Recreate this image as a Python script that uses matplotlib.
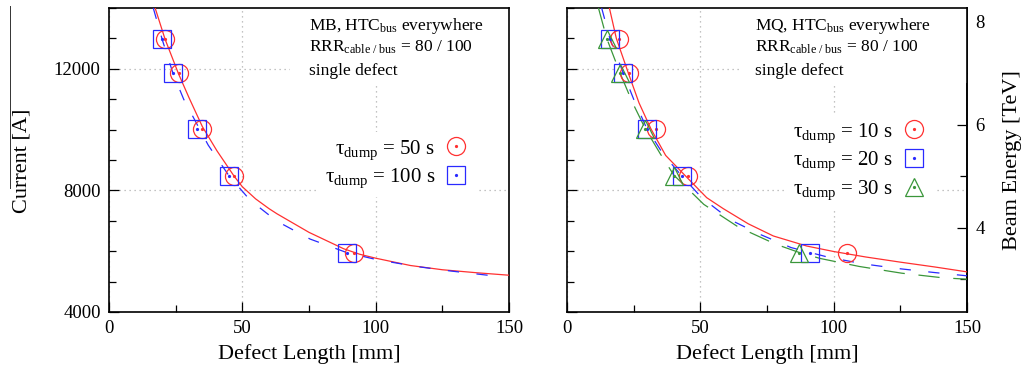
import matplotlib
matplotlib.use('Agg')
import matplotlib.pyplot as plt
from matplotlib.lines import Line2D
from matplotlib.patches import Rectangle
from matplotlib.ticker import MultipleLocator, FixedLocator

plt.rcParams['font.family'] = ['Liberation Serif', 'DejaVu Serif']
plt.rcParams['mathtext.fontset'] = 'custom'
plt.rcParams['mathtext.rm'] = 'Liberation Serif'
plt.rcParams['mathtext.it'] = 'Liberation Serif:italic'
plt.rcParams['mathtext.bf'] = 'Liberation Serif:bold'

# current -> beam energy (A per TeV)
AMPS_PER_TEV = 1694

# ---- MB panel (left) ----
mb_notes = ["MB, HTC$_{\\mathrm{bus}}$ everywhere",
            "RRR$_{\\mathrm{cable\\ /\\ bus}}$ = 80 / 100",
            "single defect"]
mb_labels = ["τ$_{\\mathrm{dump}}$ = 50 s", "τ$_{\\mathrm{dump}}$ = 100 s"]

mb50_pts_len = [21.0, 26.4, 35.0, 46.9, 91.9]
mb50_pts_cur = [12980, 11860, 10020, 8470, 5930]
mb100_pts_len = [20.0, 24.1, 33.1, 45.0, 89.1]
mb100_pts_cur = [12980, 11860, 10020, 8470, 5930]

mb50_fit_len = [17.3, 21, 26, 30, 35, 40.5, 46.9, 50, 55, 60, 63, 75, 88, 94, 100, 113, 125, 138, 150]
mb50_fit_cur = [14000, 12980, 11850, 11050, 10100, 9300, 8470, 8120, 7720, 7400, 7230, 6620,
                6080, 5900, 5770, 5530, 5390, 5290, 5210]
mb100_fit_len = [16.6, 20, 24, 28, 31.4, 37.2, 45, 52.9, 62.9, 75.4, 89, 100, 115, 128, 142, 144]
mb100_fit_cur = [14000, 12950, 11850, 11000, 10440, 9490, 8480, 7680, 6990, 6400, 5960,
                 5730, 5500, 5350, 5210, 5190]

# ---- MQ panel (right) ----
mq_notes = ["MQ, HTC$_{\\mathrm{bus}}$ everywhere",
            "RRR$_{\\mathrm{cable\\ /\\ bus}}$ = 80 / 100",
            "single defect"]
mq_labels = ["τ$_{\\mathrm{dump}}$ = 10 s", "τ$_{\\mathrm{dump}}$ = 20 s",
             "τ$_{\\mathrm{dump}}$ = 30 s"]

mq10_pts_len = [19.5, 23.3, 33.3, 45.3, 105.0]
mq10_pts_cur = [12980, 11860, 10020, 8470, 5930]
mq20_pts_len = [16.1, 21.1, 29.9, 43.0, 91.0]
mq20_pts_cur = [12980, 11860, 10020, 8470, 5930]
mq30_pts_len = [14.9, 19.9, 29.3, 40.1, 87.0]
mq30_pts_cur = [12980, 11860, 10020, 8470, 5950]

mq10_fit_len = [15.9, 18.5, 23, 27, 31.5, 37, 44.5, 52.4, 58.6, 68, 77.4, 89.9, 100, 112, 125, 138, 150]
mq10_fit_cur = [14000, 13000, 11860, 10880, 10020, 9150, 8470, 7760, 7400, 6900, 6500, 6170,
                5990, 5810, 5640, 5480, 5320]
mq20_fit_len = [13.0, 16.1, 21.1, 25, 29.9, 36, 43, 50.5, 61.4, 72.6, 84, 98, 111.1, 123.9, 137.6, 150]
mq20_fit_cur = [14000, 12990, 11860, 11000, 10040, 9200, 8480, 7760, 7025, 6546, 6120, 5802,
                5584, 5432, 5300, 5190]
mq30_fit_len = [11.8, 14.9, 19.9, 24.5, 29.3, 35, 40.1, 51.3, 64.4, 78.3, 87, 95, 109.6, 125.5, 141.1, 150]
mq30_fit_cur = [14000, 13000, 11860, 10900, 10040, 9200, 8500, 7540, 6786, 6229, 5960, 5760,
                5498, 5277, 5123, 5080]

energy_ticks = [4, 6, 8]
energy_minor = [3, 5, 7]

RED, BLUE, GREEN = '#ff3030', '#2a2aff', '#3a963a'
GRID_KW = dict(color='#b0b0b0', linestyle=(0, (1, 3)), linewidth=0.9)


def style_axes(ax):
    ax.set_xlim(0, 150)
    ax.set_ylim(4000, 14000)
    ax.xaxis.set_major_locator(MultipleLocator(50))
    ax.xaxis.set_minor_locator(MultipleLocator(25))
    ax.yaxis.set_major_locator(MultipleLocator(4000))
    ax.yaxis.set_minor_locator(MultipleLocator(1000))
    ax.tick_params(which='both', direction='in', top=False, right=False,
                   labelsize=13.5, width=0.9, pad=6)
    ax.tick_params(which='major', length=7)
    ax.tick_params(which='minor', length=5)
    for s in ax.spines.values():
        s.set_linewidth(1.2)
    ax.grid(True, which='major', **GRID_KW)
    ax.set_xlabel('Defect Length [mm]', fontsize=16, labelpad=5)


def draw_series(ax, pts_len, pts_cur, fit_len, fit_cur, color, marker, dashes):
    if dashes is None:
        ax.plot(fit_len, fit_cur, color=color, lw=0.9, zorder=3)
    else:
        ax.plot(fit_len, fit_cur, color=color, lw=0.9, dashes=dashes, zorder=3)
    big = ax.plot(pts_len, pts_cur, ls='none', marker=marker, ms=13, mfc='none',
                  mec=color, mew=0.9, zorder=4)[0]
    dot = ax.plot(pts_len, pts_cur, ls='none', marker='o', ms=1.3, color=color, zorder=4)[0]
    return (big, dot)


def add_notes(ax, notes, x, box_x, box_y):
    ax.add_patch(Rectangle((box_x, box_y), 1 - box_x, 1 - box_y, transform=ax.transAxes,
                           facecolor='white', edgecolor='none', zorder=2))
    for note, y in zip(notes, [0.929, 0.855, 0.780]):
        ax.text(x, y, note, transform=ax.transAxes, fontsize=12.5, va='baseline', zorder=5)


def add_legend(ax, handles, labels, anchor):
    ax.legend(handles, labels, loc='upper left', bbox_to_anchor=anchor, markerfirst=False,
              frameon=True, facecolor='white', edgecolor='none', framealpha=1, fancybox=False,
              handlelength=1.4, handletextpad=0.3, labelspacing=0.25, borderpad=0.3,
              borderaxespad=0, fontsize=15)


fig = plt.figure(figsize=(10.22, 3.69), dpi=100)
ax1 = fig.add_axes([109 / 1022, 57 / 369, 400 / 1022, 304 / 369])
ax2 = fig.add_axes([567 / 1022, 57 / 369, 400 / 1022, 304 / 369])

# left panel
style_axes(ax1)
h50 = draw_series(ax1, mb50_pts_len, mb50_pts_cur, mb50_fit_len, mb50_fit_cur, RED, 'o', None)
h100 = draw_series(ax1, mb100_pts_len, mb100_pts_cur, mb100_fit_len, mb100_fit_cur, BLUE, 's', (9, 14))
add_notes(ax1, mb_notes, 0.50, 0.4525, 0.747)
add_legend(ax1, [h50, h100], mb_labels, (0.524, 0.592))

# right panel
style_axes(ax2)
ax2.tick_params(labelleft=False)
h10 = draw_series(ax2, mq10_pts_len, mq10_pts_cur, mq10_fit_len, mq10_fit_cur, RED, 'o', None)
h20 = draw_series(ax2, mq20_pts_len, mq20_pts_cur, mq20_fit_len, mq20_fit_cur, BLUE, 's', (9, 14))
h30 = draw_series(ax2, mq30_pts_len, mq30_pts_cur, mq30_fit_len, mq30_fit_cur, GREEN, '^', (17, 11))
add_notes(ax2, mq_notes, 0.47, 0.4325, 0.753)
add_legend(ax2, [h10, h20, h30], mq_labels, (0.549, 0.648))

energy = ax2.secondary_yaxis('right', functions=(lambda i: i / AMPS_PER_TEV,
                                                 lambda e: e * AMPS_PER_TEV))
energy.yaxis.set_major_locator(FixedLocator(energy_ticks))
energy.yaxis.set_minor_locator(FixedLocator(energy_minor))
energy.tick_params(which='both', direction='in', labelsize=13.5, width=0.9, pad=6)
energy.tick_params(which='major', length=7)
energy.tick_params(which='minor', length=5)
energy.spines['right'].set_linewidth(1.2)

fig.text(22 / 1022, 1 - 161 / 369, 'Current [A]', rotation=90, ha='center', va='center', fontsize=16)
fig.text(1012 / 1022, 1 - 160 / 369, 'Beam Energy [TeV]', rotation=90, ha='center', va='center',
         fontsize=16)
fig.add_artist(Line2D([9.5 / 1022, 9.5 / 1022], [1 - 6 / 369, 1 - 188 / 369], color='#333333', lw=0.7))

fig.savefig('out.png', dpi=100)
